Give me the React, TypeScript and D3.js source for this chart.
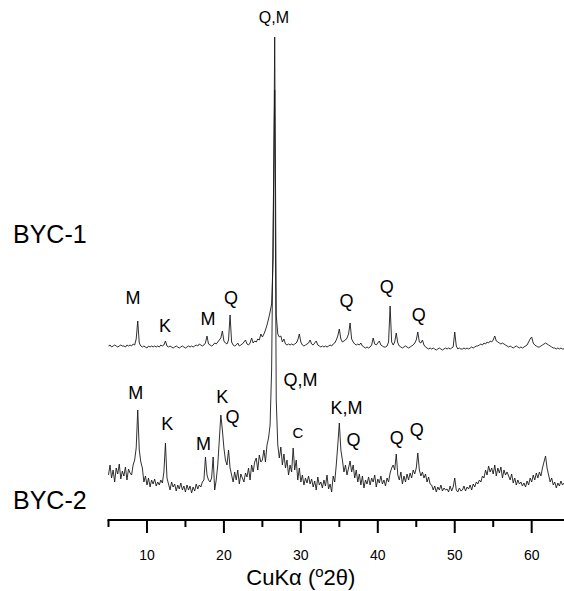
import React from "react";
import * as d3 from "d3";

// 2θ sampling grid (degrees) for both patterns
const THETA_START = 5.0;
const THETA_STEP = 0.2;

// Stacked intensity (a.u.) of BYC-1, 5.0° .. 64.2° in 0.2° steps
const byc1Values: number[] = [
  174, 175, 173, 174, 175, 174, 173, 174, 175, 174,
  174, 173, 175, 174, 175, 174, 176, 175, 181, 199,
  177, 174, 173, 174, 173, 172, 174, 173, 174, 173,
  174, 173, 174, 173, 175, 174, 175, 179, 174, 173,
  174, 173, 172, 173, 174, 173, 172, 173, 174, 173,
  172, 173, 174, 173, 174, 173, 174, 175, 174, 176,
  175, 174, 175, 177, 184, 176, 175, 174, 175, 177,
  176, 178, 180, 182, 189, 179, 177, 176, 180, 205,
  178, 175, 174, 175, 177, 174, 175, 176, 178, 180,
  176, 175, 177, 182, 177, 179, 178, 181, 180, 186,
  183, 186, 190, 195, 201, 208, 216, 262, 483, 205,
  186, 183, 184, 178, 181, 176, 175, 176, 175, 176,
  175, 176, 177, 180, 186, 178, 175, 174, 175, 176,
  177, 180, 176, 175, 177, 179, 175, 174, 173, 174,
  173, 174, 173, 174, 175, 174, 176, 177, 180, 184,
  191, 181, 178, 179, 180, 182, 186, 197, 181, 178,
  176, 175, 176, 175, 177, 174, 173, 172, 173, 172,
  173, 175, 182, 176, 175, 177, 179, 175, 174, 173,
  173, 174, 178, 214, 178, 175, 178, 187, 177, 174,
  173, 172, 173, 174, 173, 172, 173, 174, 175, 177,
  180, 188, 178, 177, 180, 175, 173, 172, 171, 172,
  171, 172, 171, 170, 171, 172, 171, 170, 171, 172,
  171, 172, 171, 172, 173, 188, 174, 171, 172, 171,
  171, 172, 171, 172, 171, 172, 173, 172, 173, 174,
  174, 175, 176, 175, 177, 176, 178, 177, 179, 178,
  180, 184, 179, 178, 177, 176, 177, 176, 175, 174,
  173, 174, 173, 172, 173, 174, 173, 172, 173, 172,
  173, 174, 175, 178, 181, 183, 177, 175, 174, 173,
  173, 174, 175, 176, 177, 176, 175, 174, 173, 172,
  172, 171, 172, 171, 172, 171, 171,
];

// Stacked intensity (a.u.) of BYC-2, same grid
const byc2Values: number[] = [
  45, 55, 42, 50, 38, 52, 46, 56, 41, 49,
  44, 53, 40, 51, 47, 45, 55, 60, 72, 110,
  70, 58, 52, 38, 44, 35, 42, 33, 40, 36,
  41, 34, 38, 35, 40, 37, 48, 77, 42, 36,
  30, 38, 33, 36, 29, 35, 31, 37, 30, 34,
  28, 35, 30, 34, 27, 33, 29, 36, 31, 35,
  33, 38, 40, 63, 45, 40, 38, 42, 63, 30,
  40, 55, 80, 105, 90, 72, 60, 55, 70, 52,
  45, 38, 48, 40, 50, 36, 46, 42, 38, 47,
  43, 52, 40, 55, 48, 58, 62, 50, 65, 58,
  60, 70, 58, 75, 82, 95, 150, 300, 430, 120,
  75, 62, 73, 55, 66, 52, 60, 45, 55, 48,
  72, 50, 60, 40, 52, 38, 45, 35, 42, 37,
  44, 36, 41, 33, 39, 30, 43, 35, 38, 32,
  40, 34, 45, 31, 36, 28, 44, 38, 55, 75,
  97, 70, 60, 48, 55, 45, 52, 59, 48, 55,
  42, 50, 38, 46, 35, 44, 32, 40, 36, 43,
  35, 42, 38, 45, 33, 41, 37, 44, 36, 40,
  34, 42, 38, 47, 52, 55, 50, 66, 45, 40,
  48, 36, 44, 38, 46, 40, 47, 42, 50, 46,
  52, 67, 50, 44, 48, 42, 46, 38, 43, 36,
  35, 30, 34, 28, 33, 30, 35, 29, 32, 30,
  31, 28, 34, 29, 33, 42, 30, 28, 32, 29,
  30, 34, 29, 33, 31, 35, 30, 36, 33, 38,
  36, 40, 38, 44, 42, 50, 45, 54, 48, 52,
  46, 55, 44, 52, 47, 53, 42, 50, 45, 48,
  44, 40, 46, 37, 42, 35, 40, 36, 38, 34,
  37, 33, 39, 35, 42, 38, 45, 40, 47, 42,
  48, 44, 52, 58, 64, 52, 45, 38, 42, 35,
  38, 32, 37, 34, 39, 35, 37,
];

// Phase labels: text, 2θ position, intensity position
const byc1LabelText = ["M", "K", "M", "Q", "Q", "Q", "Q"];
const byc1LabelTheta = [8.18, 12.34, 17.92, 20.91, 35.94, 41.17, 45.32];
const byc1LabelValue = [216, 188, 195, 216, 213, 227, 199];

const topLabelText = "Q,M";
const topLabelTheta = 26.49;
const topLabelValue = 497;

const byc2LabelText = ["M", "K", "M", "K", "Q", "Q,M", "C", "K,M", "Q", "Q", "Q"];
const byc2LabelTheta = [8.53, 12.64, 17.36, 19.78, 21.13, 29.96, 29.61, 35.94, 36.85, 42.47, 45.06];
const byc2LabelValue = [121, 90, 70, 117, 97, 134, 82, 106, 74, 76, 84];

const majorTicks = [10, 20, 30, 40, 50, 60];
const minorTicks = [5, 15, 25, 35, 45, 55];

const sampleNames = ["BYC-1", "BYC-2"];
const sampleNameValue = [277, 11];

const FONT = "'Liberation Sans', Arial, sans-serif";

export default function App() {
  const W = 564;
  const H = 591;
  const x = d3.scaleLinear().domain([5, 64.2]).range([108.5, 564]);
  const y = d3.scaleLinear().domain([0, 500]).range([520, 20]);
  const axisY = y(0);

  const toPoints = (vals: number[]) =>
    vals.map((v, i) => [THETA_START + i * THETA_STEP, v] as [number, number]);
  const line = d3
    .line<[number, number]>()
    .x((d) => x(d[0]))
    .y((d) => y(d[1]));

  const path1 = line(toPoints(byc1Values)) || "";
  const path2 = line(toPoints(byc2Values)) || "";

  return (
    <svg
      width={W}
      height={H}
      style={{ position: "absolute", left: 0, top: 0, background: "#fff" }}
      fontFamily={FONT}
    >
      <rect x={0} y={0} width={W} height={H} fill="#fff" />
      {/* patterns */}
      <path d={path2} fill="none" stroke="#1a1a1a" strokeWidth={0.9} strokeLinejoin="round" />
      <path d={path1} fill="none" stroke="#1a1a1a" strokeWidth={0.9} strokeLinejoin="round" />

      {/* axis */}
      <line x1={x(5) - 1} x2={W} y1={axisY} y2={axisY} stroke="#000" strokeWidth={2} />
      {majorTicks.map((t) => (
        <g key={"M" + t}>
          <line x1={x(t)} x2={x(t)} y1={axisY} y2={axisY + 13} stroke="#000" strokeWidth={2} />
          <text x={x(t)} y={axisY + 40} textAnchor="middle" fontSize={14} fill="#000">
            {t}
          </text>
        </g>
      ))}
      {minorTicks.map((t) => (
        <line key={"m" + t} x1={x(t)} x2={x(t)} y1={axisY} y2={axisY + 7} stroke="#000" strokeWidth={2} />
      ))}
      <text x={x(30)} y={585} textAnchor="middle" fontSize={22} fill="#000">
        CuKα (
        <tspan fontSize={15} dy={-8}>o</tspan>
        <tspan dy={8}>2θ)</tspan>
      </text>

      {/* phase labels */}
      {byc1LabelText.map((t, i) => (
        <text key={"l1" + i} x={x(byc1LabelTheta[i])} y={y(byc1LabelValue[i])} textAnchor="middle" fontSize={18} fill="#000">
          {t}
        </text>
      ))}
      <text x={x(topLabelTheta)} y={y(topLabelValue)} textAnchor="middle" fontSize={16} fill="#000">
        {topLabelText}
      </text>
      {byc2LabelText.map((t, i) => (
        <text
          key={"l2" + i}
          x={x(byc2LabelTheta[i])}
          y={y(byc2LabelValue[i])}
          textAnchor="middle"
          fontSize={t === "C" ? 15 : 18}
          fill="#000"
        >
          {t}
        </text>
      ))}

      {/* sample names */}
      {sampleNames.map((n, i) => (
        <text key={n} x={13} y={y(sampleNameValue[i])} fontSize={25} fill="#000">
          {n}
        </text>
      ))}
    </svg>
  );
}
